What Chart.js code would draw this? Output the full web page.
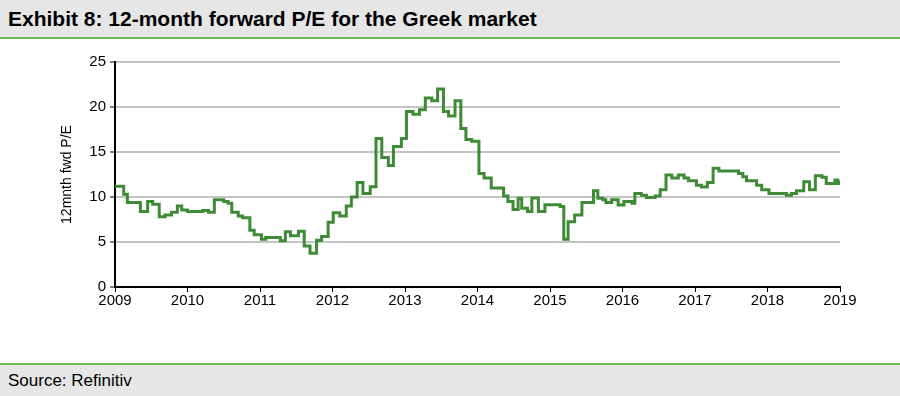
<!DOCTYPE html>
<html>
<head>
<meta charset="utf-8">
<script src="https://cdn.jsdelivr.net/npm/chart.js@4.4.1/dist/chart.umd.min.js"></script>
<style>
  html, body { margin: 0; padding: 0; background: #fff; }
  body { width: 900px; height: 396px; position: relative; overflow: hidden;
         font-family: Arial, "Liberation Sans", sans-serif; color: #000; }
  .cabecalho { position: absolute; left: 0; top: 0; width: 900px; height: 37px;
               background: #e6e6e6; border-bottom: 2px solid #6cbf4f; }
  .cabecalho span { position: absolute; left: 8px; top: 7px; font-weight: bold; font-size: 21px; }
  #caixa { position: absolute; left: 0; top: 40px; width: 900px; height: 280px; }
  .rodape { position: absolute; left: 0; top: 363px; width: 900px; height: 31px;
            background: #e6e6e6; border-top: 2px solid #6cbf4f; }
  .rodape span { position: absolute; left: 8px; top: 6px; font-size: 17px; }
</style>
</head>
<body>
<div class="cabecalho"><span>Exhibit 8: 12-month forward P/E for the Greek market</span></div>
<div id="caixa"><canvas id="graficoPE" width="900" height="280"></canvas></div>
<div class="rodape"><span>Source: Refinitiv</span></div>

<script>
// ============================================================
// DATA (step points: value holds from date on)
// ============================================================
const datas = [
  2009.00, 2009.12, 2009.17, 2009.35, 2009.45, 2009.52, 2009.61, 2009.69, 2009.78, 2009.86,
  2009.92, 2010.00, 2010.21, 2010.29, 2010.37, 2010.50, 2010.56, 2010.61, 2010.70, 2010.76,
  2010.86, 2010.92, 2011.02, 2011.08, 2011.28, 2011.35, 2011.42, 2011.53, 2011.61, 2011.69,
  2011.78, 2011.85, 2011.94, 2012.01, 2012.10, 2012.19, 2012.26, 2012.34, 2012.42, 2012.52,
  2012.60, 2012.68, 2012.77, 2012.84, 2012.95, 2013.02, 2013.11, 2013.20, 2013.28, 2013.37,
  2013.45, 2013.53, 2013.60, 2013.69, 2013.77, 2013.84, 2013.92, 2014.02, 2014.09, 2014.19,
  2014.36, 2014.42, 2014.49, 2014.56, 2014.61, 2014.69, 2014.75, 2014.84, 2014.93, 2015.14,
  2015.19, 2015.25, 2015.34, 2015.44, 2015.60, 2015.66, 2015.73, 2015.77, 2015.85, 2015.94,
  2016.02, 2016.13, 2016.17, 2016.26, 2016.33, 2016.45, 2016.52, 2016.60, 2016.68, 2016.77,
  2016.85, 2016.91, 2017.02, 2017.09, 2017.17, 2017.25, 2017.33, 2017.60, 2017.66, 2017.71,
  2017.85, 2017.92, 2018.02, 2018.26, 2018.33, 2018.40, 2018.50, 2018.58, 2018.66, 2018.75,
  2018.81, 2018.93, 2018.97, 2019.00
];
const valoresPE = [
  11.2, 10.3, 9.4, 8.4, 9.5, 9.2, 7.8, 8.0, 8.3, 9.0,
  8.55, 8.4, 8.5, 8.3, 9.7, 9.5, 9.3, 8.3, 7.9, 7.7,
  6.3, 5.8, 5.3, 5.5, 5.15, 6.15, 5.7, 6.2, 4.55, 3.75,
  5.2, 5.6, 7.2, 8.25, 7.9, 9.0, 10.0, 11.6, 10.4, 11.15,
  16.5, 14.4, 13.5, 15.6, 16.5, 19.5, 19.2, 19.7, 21.0, 20.7,
  22.0, 19.5, 19.0, 20.7, 17.6, 16.4, 16.2, 12.6, 12.1, 11.0,
  10.1, 9.5, 8.6, 9.85, 8.75, 8.4, 9.9, 8.4, 9.15, 8.95,
  5.3, 7.25, 8.0, 9.4, 10.7, 9.85, 9.7, 9.4, 9.7, 9.1,
  9.5, 9.3, 10.4, 10.2, 9.95, 10.1, 10.8, 12.45, 12.1, 12.45,
  12.1, 11.8, 11.3, 11.1, 11.6, 13.2, 12.9, 12.6, 12.25, 11.8,
  11.3, 10.8, 10.4, 10.2, 10.4, 10.7, 11.7, 10.8, 12.35, 12.2,
  11.5, 11.9, 11.5, 11.8
];
const anosTicks = [2009, 2010, 2011, 2012, 2013, 2014, 2015, 2016, 2017, 2018, 2019];
const ticksPE = [0, 5, 10, 15, 20, 25];

// ============================================================
// CHART
// ============================================================
Chart.defaults.font.family = 'Arial, "Liberation Sans", sans-serif';
Chart.defaults.color = '#000';

new Chart(document.getElementById('graficoPE'), {
  type: 'line',
  data: {
    datasets: [{
      data: datas.map((d, i) => ({ x: d, y: valoresPE[i] })),
      borderColor: '#3f8a36',
      borderWidth: 3,
      stepped: true,
      pointRadius: 0,
      fill: false
    }]
  },
  options: {
    responsive: false,
    animation: false,
    devicePixelRatio: 1,
    layout: { padding: { left: 59, right: 60, top: 22, bottom: 0 } },
    plugins: { legend: { display: false }, tooltip: { enabled: false } },
    scales: {
      x: {
        type: 'linear',
        min: anosTicks[0],
        max: anosTicks[anosTicks.length - 1],
        afterBuildTicks: s => { s.ticks = anosTicks.map(v => ({ value: v })); },
        afterFit: s => { s.height = 33; },
        ticks: { font: { size: 15 }, padding: 0, maxRotation: 0, callback: v => String(v) },
        grid: { drawOnChartArea: false, tickColor: '#000', tickLength: 5, tickWidth: 1 },
        border: { color: '#000', width: 2 }
      },
      y: {
        min: ticksPE[0],
        max: ticksPE[ticksPE.length - 1],
        afterBuildTicks: s => { s.ticks = ticksPE.map(v => ({ value: v })); },
        afterFit: s => { s.width = 56; },
        ticks: { font: { size: 15 }, padding: 4 },
        grid: { color: '#c4c4c4', lineWidth: 2, tickColor: '#000', tickLength: 5, tickWidth: 1 },
        border: { color: '#000', width: 2 },
        title: { display: true, text: '12mnth fwd P/E', font: { size: 14 }, padding: 0 }
      }
    }
  }
});
</script>
</body>
</html>
